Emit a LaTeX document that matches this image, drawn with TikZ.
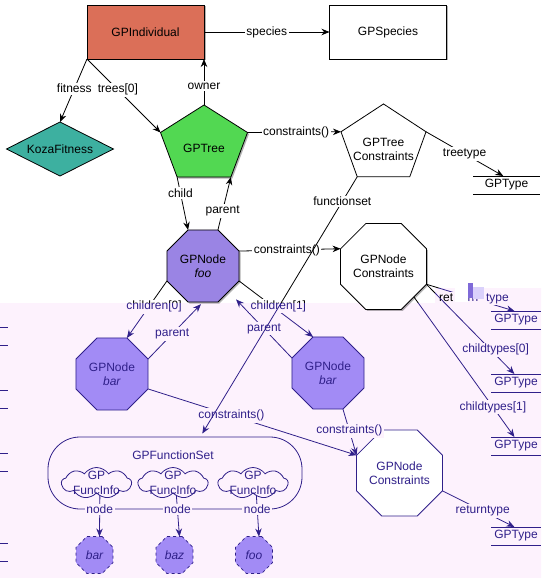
\documentclass[tikz,border=0pt]{standalone}
\usepackage{fontspec}
\setmainfont{Liberation Sans}
\usetikzlibrary{arrows.meta,shapes.geometric,shapes.symbols,shadows}

\definecolor{indivfill}{HTML}{DB6F58}
\definecolor{kozafill}{HTML}{3DB0A0}
\definecolor{treefill}{HTML}{52D852}
\definecolor{foofill}{HTML}{9A84E4}
\definecolor{barfill}{HTML}{A28BF5}
\definecolor{ink}{HTML}{30208A}
\definecolor{lav}{HTML}{FDF2FD}
\definecolor{patchpurple}{HTML}{7F6AD8}

% connectors that run from the white upper band into the tinted lower band;
% drawn once per band, each time with that band's colours
% (octagon corner k sits at 67.5 + 45(k-1) degrees)
\newcommand\bandlinks{%
  \draw[arr] (foo.corner 4) -- node[clbl, pos=0.45, xshift=5pt]{children[0]} (lbar.corner 1);
  \draw[arr] (foo.corner 7) -- node[clbl, pos=0.45, xshift=6pt]{children[1]} (rbar.corner 2);
  \draw[arr, shorten >=4pt] (tc.corner 3) -- node[clbl, pos=0.095]{functionset} (fset.55);
  \draw[arr] (nc.corner 7) -- node[clbl, pos=0.54]{\textcolor{black}{ret}\makebox[33pt]{urn}type} (type1.100);
  \draw[arr] (nc.corner 7) -- node[clbl, pos=0.73, xshift=5pt]{childtypes[0]} (type2.100);
  \draw[arr] (nc.-45) -- node[clbl, pos=0.786]{childtypes[1]} (type3.100);
}

\begin{document}
\begin{tikzpicture}[x=1pt,y=-1pt,
  font=\fontsize{12}{14}\selectfont,
  every node/.style={inner sep=0pt, outer sep=0pt},
  link/.style={draw, line width=0.8pt},
  arr/.style={link, -{Stealth[length=8pt,width=6.5pt]}},
  iarr/.style={arr, draw=ink},
  lbl/.style={fill=white, inner sep=1.5pt},
  lbll/.style={fill=lav, inner sep=1.5pt, text=ink},
  rectbox/.style={draw, line width=0.8pt, minimum width=117pt, minimum height=54pt},
  dshadow/.style={drop shadow={shadow xshift=1.5pt, shadow yshift=-1.5pt, opacity=0.3, fill=black}},
  oct/.style={regular polygon, regular polygon sides=8, minimum size=78pt, draw, line width=0.8pt, align=center},
  pent/.style={regular polygon, regular polygon sides=5, draw, line width=0.8pt, transform shape},
  leafoct/.style={regular polygon, regular polygon sides=8, minimum size=40pt, draw=ink, dashed, fill=barfill, line width=0.8pt, text=ink, font=\fontsize{12}{14}\selectfont\itshape},
  typebar/.style={minimum height=18pt},
  fcloud/.style={cloud, cloud puffs=9, cloud puff arc=110, draw=ink, line width=0.8pt, minimum width=70pt, minimum height=31pt},
]
\useasboundingbox (0,0) rectangle (541,578);

% tinted lower band
\fill[lav] (0,303) -- (435,303) -- (435,288) -- (541,288) -- (541,578) -- (0,578) -- cycle;
\foreach \y in {327,345,390,408,453,471,543,561} \draw[ink, line width=0.8pt] (0,\y) -- (8,\y);

% ---- upper band ----
\node[rectbox, fill=indivfill, dshadow] (indiv) at (145.5,32) {GPIndividual};
\node[rectbox, fill=white, dshadow] (species) at (388,32) {GPSpecies};
\node[diamond, aspect=2, draw, line width=0.8pt, fill=kozafill, minimum width=107pt, minimum height=54pt] (koza) at (60,149) {KozaFitness};

\begin{scope}[shift={(204,144.8)}, yscale=0.87]
  \node[pent, fill=treefill, minimum size=91.5pt, dshadow] (tree) at (0,0) {};
\end{scope}
\node (treetxt) at (204,148) {GPTree};

\begin{scope}[shift={(383.5,144.2)}, yscale=0.9]
  \node[pent, fill=white, minimum size=89.4pt] (tc) at (0,0) {};
\end{scope}
\node[align=center] (tctxt) at (383.5,149.5) {GPTree\\Constraints};

\node[oct, fill=foofill, dshadow] (foo) at (203,266) {GPNode\\\textit{foo}};
\node[oct, fill=white, dshadow, minimum size=79pt] (nc) at (383.5,266.5) {GPNode\\Constraints};

\node[typebar, minimum width=67pt] (type0) at (506.5,185) {GPType};
\draw[link] (type0.north west) -- (type0.north east) (type0.south west) -- (type0.south east);

\draw[arr] (indiv) -- node[lbl]{species} (species);
\draw[arr] (indiv.south west) -- node[lbl, pos=0.47]{fitness} (koza.north);
\draw[arr] (indiv.south west) -- node[lbl, pos=0.42]{trees[0]} (tree.corner 2);
\draw[arr] (tree.corner 1) -- node[lbl, pos=0.41]{owner} (tree.corner 1 |- indiv.south);
\draw[arr] (tree.corner 5) -- node[lbl, pos=0.52]{constraints()} (tc.corner 2);
\draw[arr] (tree.corner 3) -- node[lbl, pos=0.3]{child} (foo.corner 2);
\draw[arr] (foo.corner 1) -- node[lbl, pos=0.36]{parent} (tree.corner 4);
\draw[arr] (foo.corner 8) -- node[lbl, pos=0.47]{constraints()} (nc.corner 3);
\draw[arr] (tc.corner 5) -- node[lbl, pos=0.5]{treetype} (type0.110);

% ---- lower band ----
\node[oct, fill=barfill, draw=ink, text=ink] (lbar) at (112,374) {GPNode\\\textit{bar}};
\node[oct, fill=barfill, draw=ink, text=ink] (rbar) at (328,373) {GPNode\\\textit{bar}};
\node[oct, fill=white, draw=ink, text=ink, minimum size=79pt] (nc2) at (399.5,473) {GPNode\\Constraints};

\node[draw=ink, line width=0.8pt, rounded corners=32pt, minimum width=254pt, minimum height=72pt] (fset) at (175,473) {};
\node[text=ink] (fsetname) at (173,455) {GPFunctionSet};
\node[fcloud] (c1) at (96.5,483) {};
\node[fcloud] (c2) at (173,483) {};
\node[fcloud] (c3) at (253,483) {};
\foreach \c in {c1,c2,c3}
  \node[text=ink, align=center, font=\fontsize{12}{15}\selectfont] (\c txt) at (\c) {GP\\FuncInfo};
\node[leafoct] (d1) at (94.5,555) {bar};
\node[leafoct] (d2) at (174.5,555) {baz};
\node[leafoct] (d3) at (254,555) {foo};

\foreach \t/\yy in {type1/320,type2/383,type3/446,type4/536}{
  \node[typebar, minimum width=50pt, text=ink] (\t) at (516,\yy) {GPType};
  \draw[ink, line width=0.8pt] (\t.north west) -- (\t.north east) (\t.south west) -- (\t.south east);
}

\draw[iarr, shorten >=3pt] (lbar.corner 8) -- node[lbll, pos=0.44]{parent} (foo.south);
\draw[iarr, shorten >=11pt] (rbar.corner 3) -- node[lbll, pos=0.44]{parent} (foo.-45);
\draw[iarr] (lbar.corner 7) -- node[lbll, pos=0.4]{constraints()} (nc2.corner 3);
\draw[iarr] (rbar.corner 6) -- node[lbll, pos=0.47]{constraints()} (nc2.corner 3);
\draw[iarr] (nc2.corner 7) -- node[lbll, pos=0.56]{returntype} (type4.100);
\draw[iarr] (c1.-75) -- node[lbll, pos=0.34]{node} (d1.75);
\draw[iarr] (c2.-75) -- node[lbll, pos=0.34]{node} (d2.75);
\draw[iarr] (c3.-75) -- node[lbll, pos=0.34]{node} (d3.75);

% connectors crossing the band edge
\begin{scope}[clbl/.style={fill=white, inner sep=1.5pt}]
  \clip (0,0) -- (541,0) -- (541,288) -- (435,288) -- (435,303) -- (0,303) -- cycle;
  \bandlinks
\end{scope}
\begin{scope}[clbl/.style={fill=lav, inner sep=1.5pt, text=ink}, link/.style={draw=ink, line width=0.8pt}]
  \clip (0,303) -- (435,303) -- (435,288) -- (541,288) -- (541,578) -- (0,578) -- cycle;
  \bandlinks
\end{scope}

% scrambled patch over the returntype label
\fill[white] (455,287) rectangle (468,302);
\fill[patchpurple] (468,283) rectangle (473,298);
\fill[barfill!40] (473,287) rectangle (484,299);
\end{tikzpicture}
\end{document}
